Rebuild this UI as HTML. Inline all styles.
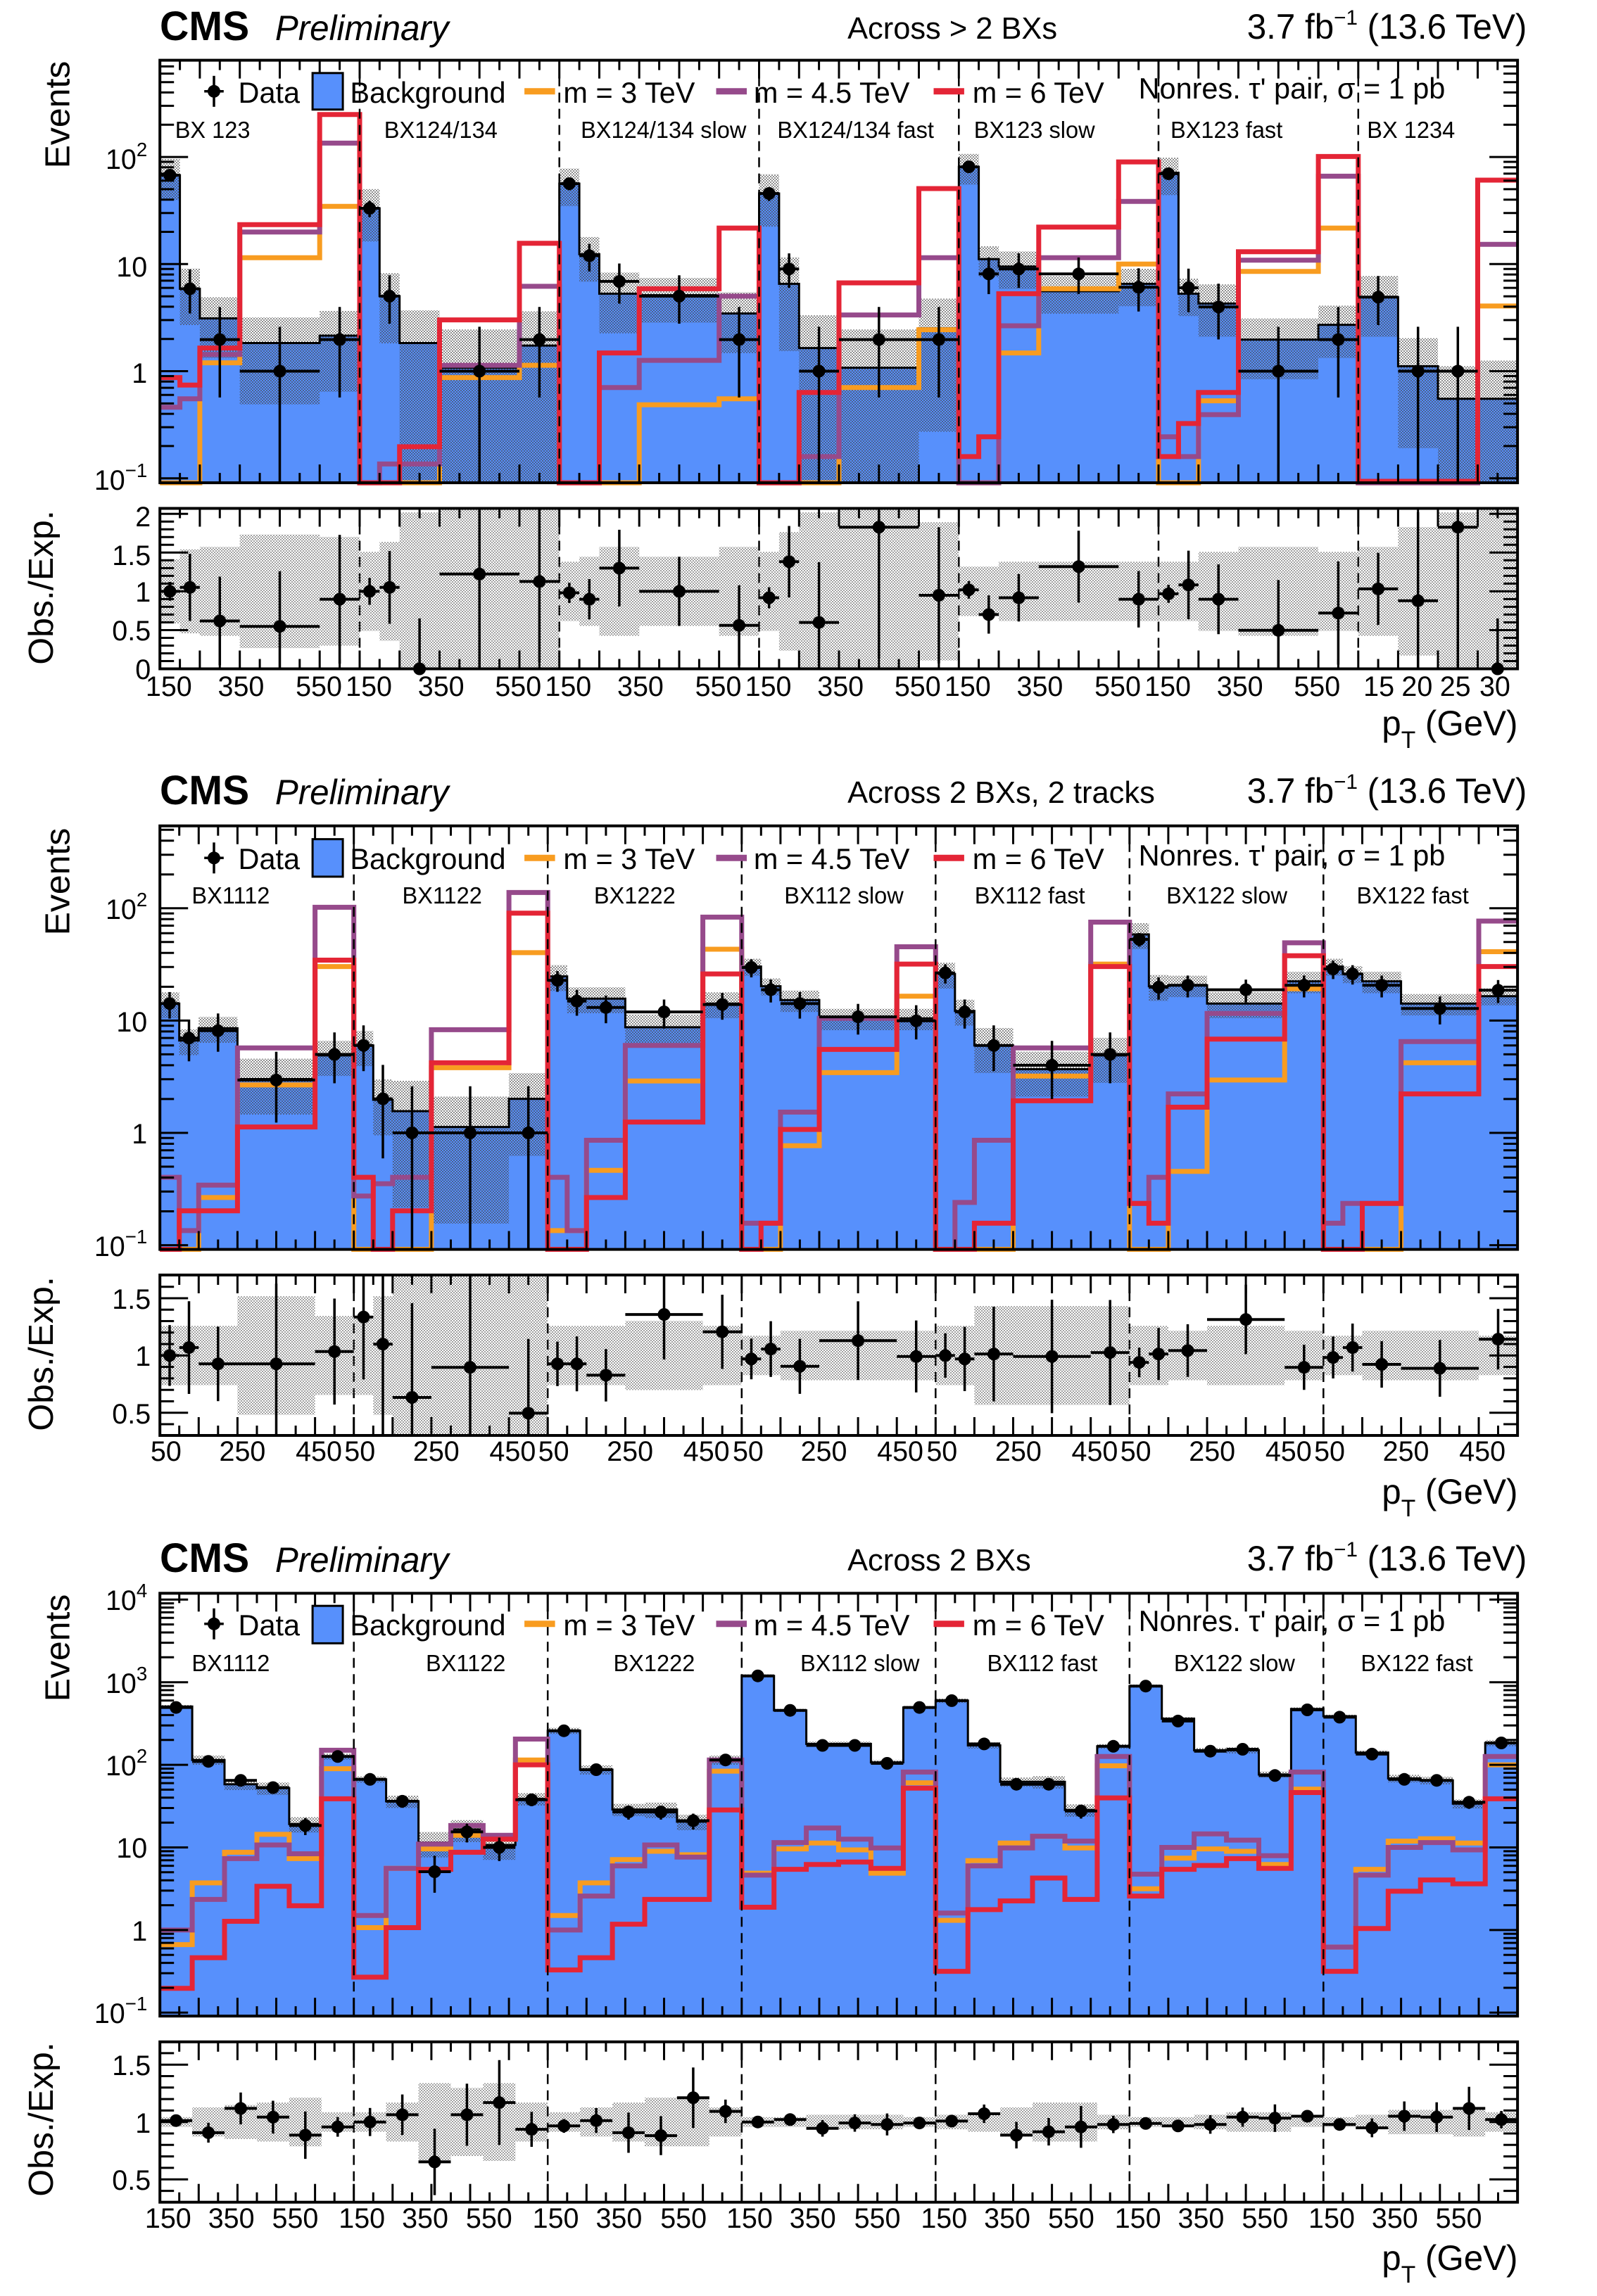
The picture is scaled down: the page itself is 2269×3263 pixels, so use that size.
<!DOCTYPE html>
<html><head><meta charset="utf-8"><style>
html,body{margin:0;padding:0;background:#fff;}
svg{display:block;}
text{font-family:"Liberation Sans",Arial,sans-serif;fill:#000;}
.t{font-size:40px;}
.lg{font-size:42px;}
.gl{font-size:33px;}
.cms{font-size:58px;font-weight:bold;}
.pre{font-size:50px;font-style:italic;}
.ax{font-size:50px;}
</style></head><body>
<svg id="s" width="2269" height="3263" viewBox="0 0 2269 3263" xmlns="http://www.w3.org/2000/svg">
<defs><pattern id="h" width="4" height="4" patternUnits="userSpaceOnUse"><rect width="2" height="2" fill="#444"/><rect x="2" y="2" width="2" height="2" fill="#444"/></pattern></defs>
<rect width="2269" height="3263" fill="#fff"/>
<g id="plots"></g>
<g transform="scale(0.98695,1)">
<!-- Panel 1 text -->
<text class="cms" x="230" y="57">CMS</text><text class="pre" x="396" y="57">Preliminary</text>
<text class="lg" x="1220" y="55" style="font-size:44px">Across &gt; 2 BXs</text>
<text class="ax" x="2198" y="55" text-anchor="end">3.7 fb<tspan dy="-20" font-size="30">−1</tspan><tspan dy="20"> (13.6 TeV)</tspan></text>
<text class="lg" x="343" y="146">Data</text><text class="lg" x="504" y="146">Background</text>
<text class="lg" x="811" y="146">m = 3 TeV</text><text class="lg" x="1085" y="146">m = 4.5 TeV</text><text class="lg" x="1400" y="146">m = 6 TeV</text>
<text class="lg" x="1639" y="140">Nonres. τ' pair, σ = 1 pb</text>
<g class="gl"><text x="252" y="196">BX 123</text><text x="553" y="196">BX124/134</text><text x="836" y="196">BX124/134 slow</text><text x="1119" y="196">BX124/134 fast</text><text x="1402" y="196">BX123 slow</text><text x="1685" y="196">BX123 fast</text><text x="1968" y="196">BX 1234</text></g>
<g class="t" text-anchor="end"><text x="212" y="240">10<tspan dy="-18" font-size="28">2</tspan></text><text x="212" y="393">10</text><text x="212" y="544">1</text><text x="212" y="696">10<tspan dy="-18" font-size="28">−1</tspan></text>
<text x="217" y="748">2</text><text x="217" y="803">1.5</text><text x="217" y="855">1</text><text x="217" y="910">0.5</text><text x="217" y="965">0</text></g>
<g class="t" text-anchor="middle">
<text x="243" y="989">150</text><text x="347" y="989">350</text><text x="459" y="989">550</text>
<text x="531" y="989">150</text><text x="635" y="989">350</text><text x="746" y="989">550</text>
<text x="818" y="989">150</text><text x="922" y="989">350</text><text x="1034" y="989">550</text>
<text x="1106" y="989">150</text><text x="1210" y="989">350</text><text x="1321" y="989">550</text>
<text x="1393" y="989">150</text><text x="1497" y="989">350</text><text x="1609" y="989">550</text>
<text x="1681" y="989">150</text><text x="1785" y="989">350</text><text x="1896" y="989">550</text>
<text x="1985" y="989">15</text><text x="2040" y="989">20</text><text x="2095" y="989">25</text><text x="2152" y="989">30</text></g>
<text class="ax" x="2185" y="1045" text-anchor="end">p<tspan dy="18" font-size="34">T</tspan><tspan dy="-18"> (GeV)</tspan></text>
<text class="ax" transform="translate(100,163) rotate(-90)" text-anchor="middle">Events</text>
<text class="ax" transform="translate(76,835) rotate(-90)" text-anchor="middle">Obs./Exp.</text>

<!-- Panel 2 text -->
<text class="cms" x="230" y="1143">CMS</text><text class="pre" x="396" y="1143">Preliminary</text>
<text class="lg" x="1220" y="1141" style="font-size:44px">Across 2 BXs, 2 tracks</text>
<text class="ax" x="2198" y="1141" text-anchor="end">3.7 fb<tspan dy="-20" font-size="30">−1</tspan><tspan dy="20"> (13.6 TeV)</tspan></text>
<text class="lg" x="343" y="1235">Data</text><text class="lg" x="504" y="1235">Background</text>
<text class="lg" x="811" y="1235">m = 3 TeV</text><text class="lg" x="1085" y="1235">m = 4.5 TeV</text><text class="lg" x="1400" y="1235">m = 6 TeV</text>
<text class="lg" x="1639" y="1230">Nonres. τ' pair, σ = 1 pb</text>
<g class="gl"><text x="276" y="1284">BX1112</text><text x="579" y="1284">BX1122</text><text x="855" y="1284">BX1222</text><text x="1129" y="1284">BX112 slow</text><text x="1403" y="1284">BX112 fast</text><text x="1679" y="1284">BX122 slow</text><text x="1953" y="1284">BX122 fast</text></g>
<g class="t" text-anchor="end"><text x="212" y="1306">10<tspan dy="-18" font-size="28">2</tspan></text><text x="212" y="1466">10</text><text x="212" y="1625">1</text><text x="212" y="1785">10<tspan dy="-18" font-size="28">−1</tspan></text>
<text x="217" y="1860">1.5</text><text x="217" y="1941">1</text><text x="217" y="2023">0.5</text></g>
<g class="t" text-anchor="middle">
<text x="239" y="2076">50</text><text x="349" y="2076">250</text><text x="459" y="2076">450</text>
<text x="518" y="2076">50</text><text x="628" y="2076">250</text><text x="738" y="2076">450</text>
<text x="797" y="2076">50</text><text x="907" y="2076">250</text><text x="1017" y="2076">450</text>
<text x="1077" y="2076">50</text><text x="1186" y="2076">250</text><text x="1296" y="2076">450</text>
<text x="1356" y="2076">50</text><text x="1466" y="2076">250</text><text x="1576" y="2076">450</text>
<text x="1635" y="2076">50</text><text x="1745" y="2076">250</text><text x="1855" y="2076">450</text>
<text x="1914" y="2076">50</text><text x="2024" y="2076">250</text><text x="2134" y="2076">450</text></g>
<text class="ax" x="2185" y="2137" text-anchor="end">p<tspan dy="18" font-size="34">T</tspan><tspan dy="-18"> (GeV)</tspan></text>
<text class="ax" transform="translate(100,1253) rotate(-90)" text-anchor="middle">Events</text>
<text class="ax" transform="translate(76,1924) rotate(-90)" text-anchor="middle">Obs./Exp.</text>

<!-- Panel 3 text -->
<text class="cms" x="230" y="2234">CMS</text><text class="pre" x="396" y="2234">Preliminary</text>
<text class="lg" x="1220" y="2232" style="font-size:44px">Across 2 BXs</text>
<text class="ax" x="2198" y="2232" text-anchor="end">3.7 fb<tspan dy="-20" font-size="30">−1</tspan><tspan dy="20"> (13.6 TeV)</tspan></text>
<text class="lg" x="343" y="2324">Data</text><text class="lg" x="504" y="2324">Background</text>
<text class="lg" x="811" y="2324">m = 3 TeV</text><text class="lg" x="1085" y="2324">m = 4.5 TeV</text><text class="lg" x="1400" y="2324">m = 6 TeV</text>
<text class="lg" x="1639" y="2318">Nonres. τ' pair, σ = 1 pb</text>
<g class="gl"><text x="276" y="2375">BX1112</text><text x="613" y="2375">BX1122</text><text x="883" y="2375">BX1222</text><text x="1152" y="2375">BX112 slow</text><text x="1421" y="2375">BX112 fast</text><text x="1690" y="2375">BX122 slow</text><text x="1959" y="2375">BX122 fast</text></g>
<g class="t" text-anchor="end"><text x="212" y="2288">10<tspan dy="-18" font-size="28">4</tspan></text><text x="212" y="2406">10<tspan dy="-18" font-size="28">3</tspan></text><text x="212" y="2523">10<tspan dy="-18" font-size="28">2</tspan></text><text x="212" y="2640">10</text><text x="212" y="2758">1</text><text x="212" y="2875">10<tspan dy="-18" font-size="28">−1</tspan></text>
<text x="217" y="2949">1.5</text><text x="217" y="3031">1</text><text x="217" y="3112">0.5</text></g>
<g class="t" text-anchor="middle">
<text x="242" y="3166">150</text><text x="333" y="3166">350</text><text x="425" y="3166">550</text>
<text x="521" y="3166">150</text><text x="612" y="3166">350</text><text x="704" y="3166">550</text>
<text x="800" y="3166">150</text><text x="891" y="3166">350</text><text x="984" y="3166">550</text>
<text x="1079" y="3166">150</text><text x="1170" y="3166">350</text><text x="1263" y="3166">550</text>
<text x="1359" y="3166">150</text><text x="1450" y="3166">350</text><text x="1542" y="3166">550</text>
<text x="1638" y="3166">150</text><text x="1729" y="3166">350</text><text x="1821" y="3166">550</text>
<text x="1917" y="3166">150</text><text x="2008" y="3166">350</text><text x="2100" y="3166">550</text></g>
<text class="ax" x="2185" y="3226" text-anchor="end">p<tspan dy="18" font-size="34">T</tspan><tspan dy="-18"> (GeV)</tspan></text>
<text class="ax" transform="translate(100,2342) rotate(-90)" text-anchor="middle">Events</text>
<text class="ax" transform="translate(76,3012) rotate(-90)" text-anchor="middle">Obs./Exp.</text>
</g>
</svg>
<script>
const S=2269/1568, X=x=>(x*S).toFixed(1);
const LX=x=>(x*0.98695).toFixed(1);
const N=null;
const P=[
{off:0,fy:.7015,ft:122,fb:978,rt:1030,rb:1355,r1:1198,ru:157,y1:752,dec:217,gw:196.1,lgY:185,lgB:[148,222],G:[
{b:[355,585,645,695,680],d:[355,585,688,752,688],o:[980,980,735,522,418],p:[825,808,718,470,290],r:[765,780,705,455,232],e:[65,85,90,115,110],q:[1198,1190,1258,1269,1214]},
{b:[422,600,695,745,700],d:[422,600,N,752,688],o:[980,980,980,765,740],p:[980,940,940,740,580],r:[980,980,905,648,493],e:[80,100,160,200,170],q:[1198,1190,1355,1163,1178]},
{b:[372,515,595,598,635],d:[372,518,570,600,688],o:[980,980,980,820,808],p:[980,980,785,730,600],r:[980,980,715,585,462],e:[60,70,90,70,90],q:[1201,1214,1151,1198,1267]},
{b:[392,575,705,745,665],d:[392,545,752,688,688],o:[980,980,980,785,668],p:[980,980,925,638,522],r:[980,980,795,573,382],e:[80,120,160,200,140],q:[1211,1138,1261,1068,1206]},
{b:[338,525,540,590,575],d:[338,555,545,555,582],o:[980,980,715,585,535],p:[980,980,660,522,408],r:[925,885,595,460,328],e:[50,50,60,60,60],q:[1195,1245,1211,1148,1214]},
{b:[350,595,615,688,658],d:[352,583,622,752,688],o:[980,980,812,550,462],p:[885,925,840,527,357],r:[925,858,795,510,317],e:[60,60,80,90,80],q:[1203,1185,1214,1277,1242]},
{b:[602,742,808,808],d:[602,752,752,N],o:[980,980,980,620],p:[980,980,980,495],r:[975,975,975,365],e:[90,130,160,200],q:[1193,1217,1068,1355]}]},
{off:1100,fy:.7015,ft:105,fb:963,rt:1015,rb:1340,r1:1178,ru:232,y1:727,dec:227.5,gw:190.4,lgY:170,lgB:[132,208],G:[
{b:[465,540,515,618,570],d:[465,535,520,620,568],o:[965,965,858,630,390],p:[817,925,833,555,270],r:[965,885,885,715,377],e:[60,60,60,120,80],q:[1178,1162,1195,1195,1170]},
{b:[550,660,683,715,658],d:[550,658,727,727,727],o:[965,965,965,595,362],p:[855,830,817,518,240],r:[817,965,885,585,282],e:[80,120,200,200,160],q:[1100,1155,1263,1202,1295]},
{b:[410,455,455,513,465],d:[418,460,473,482,467],o:[925,925,803,622,355],p:[817,925,742,550,290],r:[965,965,858,705,405],e:[60,60,60,70,60],q:[1195,1195,1218,1095,1130]},
{b:[390,430,458,495,495],d:[392,437,465,492,500],o:[965,965,753,605,450],p:[910,910,685,495,350],r:[965,910,720,558,385],e:[40,40,50,50,50],q:[1185,1165,1200,1148,1180]},
{b:[405,480,550,598,570],d:[403,482,550,590,568],o:[965,965,965,612,385],p:[965,868,742,555,300],r:[965,965,910,662,390],e:[60,60,100,100,100],q:[1178,1185,1175,1180,1172]},
{b:[325,430,428,465,420],d:[335,432,428,437,428],o:[965,965,805,620,435],p:[870,817,648,485,342],r:[870,910,675,537,368],e:[60,60,50,60,50],q:[1192,1175,1168,1105,1202]},
{b:[390,405,420,465,450],d:[395,405,428,475,438],o:[965,965,965,585,360],p:[910,870,870,542,298],r:[965,965,870,648,390],e:[40,40,50,50,40],q:[1182,1162,1196,1204,1145]}]},
{off:2180,fy:.6907,ft:122,fb:992,rt:1045,rb:1375,r1:1210,ru:236,y1:815,dec:170,gw:190.4,lgY:185,lgB:[148,225],G:[
{b:[355,465,515,523,597,458],d:[357,468,507,522,600,458],o:[845,718,655,618,668,483],p:[815,752,668,640,658,445],r:[935,872,797,725,765,545],e:[10,30,35,40,50,20],q:[1207,1232,1182,1200,1237,1220]},
{b:[505,550,635,608,640,545],d:[505,550,695,613,645,547],o:[810,688,648,620,628,465],p:[785,688,638,600,620,422],r:[912,810,690,655,628,475],e:[20,40,80,70,80,40],q:[1210,1195,1292,1195,1170,1225]},
{b:[405,485,567,567,592,465],d:[405,485,572,572,590,465],o:[785,718,670,653,660,488],p:[815,745,683,640,665,465],r:[897,872,803,752,752,568],e:[20,30,40,50,50,30],q:[1218,1207,1232,1238,1160,1188]},
{b:[292,363,432,432,470,357],d:[292,363,435,435,472,357],o:[698,648,636,650,698,512],p:[702,635,605,628,646,490],r:[768,690,680,675,688,523],e:[10,10,15,15,15,10],q:[1210,1205,1223,1212,1215,1212]},
{b:[343,435,510,510,568,437],d:[343,432,515,515,570,437],o:[795,672,636,622,646,477],p:[780,683,646,622,632,458],r:[900,773,755,708,752,543],e:[15,20,30,40,40,15],q:[1208,1193,1237,1230,1220,1215]},
{b:[313,380,445,445,495,360],d:[313,385,447,443,497,362],o:[730,667,648,653,680,525],p:[700,645,617,630,662,490],r:[745,690,682,668,688,532],e:[10,10,15,20,20,10],q:[1213,1218,1215,1200,1202,1198]},
{b:[375,450,503,507,555,430],d:[377,453,505,507,552,430],o:[850,690,632,627,636,475],p:[850,702,645,635,650,458],r:[900,812,735,712,720,545],e:[10,15,25,25,30,20],q:[1215,1222,1198,1200,1182,1205]}]}];
const COL={o:'#f89c20',p:'#964a8b',r:'#e42536'};
let out='';
P.forEach(P=>{
 const Y=y=>(P.off+y*P.fy).toFixed(1), fb=P.fb;
 const it=[];
 const gx=gi=>157+P.gw*gi, gwid=gi=>(gi==6?1490-gx(6):P.gw);
 P.G.forEach((g,gi)=>{const x0=gx(gi),w=gwid(gi),n=g.b.length;
  const fr=n==4?[0,.25,.5,.75,1]:n==6?[0,1/6,2/6,3/6,4/6,5/6,1]:[0,.1,.2,.4,.8,1];
  for(let i=0;i<n;i++)it.push({xa:x0+fr[i]*w,xb:x0+fr[i+1]*w,b:g.b[i],d:g.d[i],o:g.o[i],p:g.p[i],r:g.r[i],e:g.e[i],q:g.q[i]});});
 const last=it[it.length-1];
 let pf=`M${X(it[0].xa)} ${Y(fb)}`,po='';
 it.forEach((t,i)=>{pf+=` L${X(t.xa)} ${Y(t.b)} L${X(t.xb)} ${Y(t.b)}`;po+=(i?' L':'M')+`${X(t.xa)} ${Y(t.b)} L${X(t.xb)} ${Y(t.b)}`;});
 pf+=` L${X(last.xb)} ${Y(fb)} Z`;
 out+=`<path d="${pf}" fill="#5790fc"/>`;
 it.forEach(t=>{const r=t.e/P.ru;const tp=t.b-P.dec*Math.log10(1+r);let bo=r>=0.93?fb:t.b-P.dec*Math.log10(1-r);bo=Math.min(bo,fb);
  out+=`<rect x="${X(t.xa)}" y="${Y(tp)}" width="${(S*(t.xb-t.xa)).toFixed(1)}" height="${((bo-tp)*P.fy).toFixed(1)}" fill="url(#h)" opacity="0.6"/>`;});
 out+=`<path d="${po}" fill="none" stroke="#000" stroke-width="3"/>`;
 ['o','p','r'].forEach(k=>{let d='';it.forEach((t,i)=>{const v=Math.min(t[k],fb);d+=(i?` L${X(t.xa)} ${Y(v)}`:`M${X(t.xa)} ${Y(v)}`)+` L${X(t.xb)} ${Y(v)}`;});
  out+=`<path d="${d}" fill="none" stroke="${COL[k]}" stroke-width="7"/>`;});
 for(let gi=1;gi<7;gi++){const x=X(gx(gi));
  out+=`<line x1="${x}" x2="${x}" y1="${Y(P.ft)}" y2="${Y(fb)}" stroke="#000" stroke-width="2.5" stroke-dasharray="14,9"/>`;
  out+=`<line x1="${x}" x2="${x}" y1="${Y(P.rt)}" y2="${Y(P.rb)}" stroke="#000" stroke-width="2.5" stroke-dasharray="14,9"/>`;}
 it.forEach(t=>{if(t.d==null)return;const v=Math.pow(10,(P.y1-t.d)/P.dec),sq=Math.sqrt(v);
  const up=v+sq+(v<10?0.6:0),lo=v-sq;let yt=P.y1-P.dec*Math.log10(up);let yb=lo>0.1?P.y1-P.dec*Math.log10(lo):fb;yb=Math.min(yb,fb);yt=Math.max(yt,P.ft);
  const xc=X((t.xa+t.xb)/2);
  out+=`<line x1="${xc}" x2="${xc}" y1="${Y(yt)}" y2="${Y(yb)}" stroke="#000" stroke-width="3.5"/><line x1="${X(t.xa)}" x2="${X(t.xb)}" y1="${Y(t.d)}" y2="${Y(t.d)}" stroke="#000" stroke-width="4"/><circle cx="${xc}" cy="${Y(t.d)}" r="9"/>`;});
 it.forEach(t=>{const a=Math.max(P.r1-t.e,P.rt),b=Math.min(P.r1+t.e,P.rb);
  out+=`<rect x="${X(t.xa)}" y="${Y(a)}" width="${(S*(t.xb-t.xa)).toFixed(1)}" height="${((b-a)*P.fy).toFixed(1)}" fill="url(#h)" opacity="0.5"/>`;});
 it.forEach(t=>{const v=t.d==null?1:Math.pow(10,(P.y1-t.d)/P.dec);const rv=(P.r1-t.q)/P.ru+1;const h=Math.max(rv,0.5)*P.ru/Math.sqrt(v)*(v<3?1.3:1);
  const a=Math.max(t.q-h,P.rt),b=Math.min(t.q+h,P.rb);const xc=X((t.xa+t.xb)/2);
  out+=`<line x1="${xc}" x2="${xc}" y1="${Y(a)}" y2="${Y(b)}" stroke="#000" stroke-width="3.5"/><line x1="${X(t.xa)}" x2="${X(t.xb)}" y1="${Y(t.q)}" y2="${Y(t.q)}" stroke="#000" stroke-width="4"/><circle cx="${xc}" cy="${Y(t.q)}" r="9"/>`;});
 for(let k=-1;k<=4;k++)for(let m=1;m<=9;m++){const y=P.y1-P.dec*(k+Math.log10(m));if(y<P.ft||y>fb)continue;const L=m==1?40:20;
  out+=`<line x1="${X(157)}" x2="${(157*S+L).toFixed(1)}" y1="${Y(y)}" y2="${Y(y)}" stroke="#000" stroke-width="3"/><line x1="${X(1490)}" x2="${(1490*S-L).toFixed(1)}" y1="${Y(y)}" y2="${Y(y)}" stroke="#000" stroke-width="3"/>`;}
 for(let r=0;r<=2.5;r+=0.1){const y=P.r1-(r-1)*P.ru;if(y<P.rt||y>P.rb)continue;const mj=Math.abs(r*2-Math.round(r*2))<1e-6;const L=mj?40:20;
  out+=`<line x1="${X(157)}" x2="${(157*S+L).toFixed(1)}" y1="${Y(y)}" y2="${Y(y)}" stroke="#000" stroke-width="3"/><line x1="${X(1490)}" x2="${(1490*S-L).toFixed(1)}" y1="${Y(y)}" y2="${Y(y)}" stroke="#000" stroke-width="3"/>`;}
 for(let gi=0;gi<7;gi++){const w=gwid(gi);const nt=Math.round(w/(P.gw/10));for(let j=0;j<nt;j++){const x=X(gx(gi)+w*j/nt);const L=j%2==0?26:14;
  [[P.ft,1],[fb,-1],[P.rt,1],[P.rb,-1]].forEach(([y,s])=>{const yy=P.off+y*P.fy;out+=`<line x1="${x}" x2="${x}" y1="${yy.toFixed(1)}" y2="${(yy+s*L).toFixed(1)}" stroke="#000" stroke-width="3"/>`;});}}
 out+=`<rect x="${X(157)}" y="${Y(P.ft)}" width="${(S*1333).toFixed(1)}" height="${((fb-P.ft)*P.fy).toFixed(1)}" fill="none" stroke="#000" stroke-width="4"/>`;
 out+=`<rect x="${X(157)}" y="${Y(P.rt)}" width="${(S*1333).toFixed(1)}" height="${((P.rb-P.rt)*P.fy).toFixed(1)}" fill="none" stroke="#000" stroke-width="4"/>`;
 const ly=Y(P.lgY);
 out+=`<line x1="${LX(308)}" x2="${LX(308)}" y1="${(+ly-22).toFixed(1)}" y2="${(+ly+22).toFixed(1)}" stroke="#000" stroke-width="3.5"/><line x1="${LX(294)}" x2="${LX(322)}" y1="${ly}" y2="${ly}" stroke="#000" stroke-width="3.5"/><circle cx="${LX(308)}" cy="${ly}" r="9"/>`;
 out+=`<rect x="${LX(450)}" y="${Y(P.lgB[0])}" width="43" height="${((P.lgB[1]-P.lgB[0])*P.fy).toFixed(1)}" fill="#5790fc" stroke="#000" stroke-width="3"/>`;
 out+=`<line x1="${LX(755)}" x2="${LX(799)}" y1="${ly}" y2="${ly}" stroke="${COL.o}" stroke-width="9"/><line x1="${LX(1031)}" x2="${LX(1075)}" y1="${ly}" y2="${ly}" stroke="${COL.p}" stroke-width="9"/><line x1="${LX(1344)}" x2="${LX(1388)}" y1="${ly}" y2="${ly}" stroke="${COL.r}" stroke-width="9"/>`;
});
document.getElementById('plots').innerHTML=out;
</script>
</body></html>
